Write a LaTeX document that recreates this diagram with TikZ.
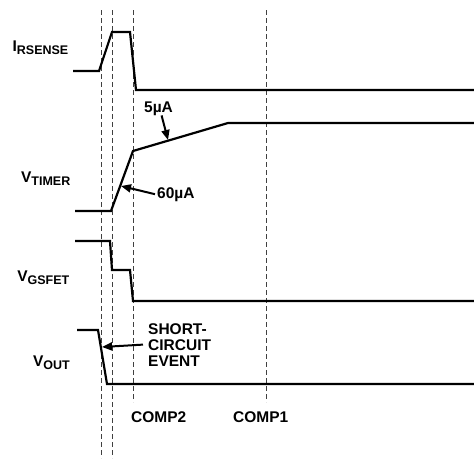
\documentclass[tikz,border=0pt]{standalone}
\usepackage{fontspec}
\setmainfont{Liberation Sans}
\usetikzlibrary{arrows.meta}
\newcommand{\sbs}[1]{\raisebox{-3pt}{\fontsize{12.5}{14}\selectfont #1}}

\begin{document}
\begin{tikzpicture} [x=1pt, y=-1pt, line join=miter,
    every node/.style={inner sep=0pt, font=\fontsize{15.5}{16}\selectfont\bfseries},
    sig/.style={line width=2.2pt},
    vdash/.style={line width=1pt, black!75, dash pattern=on 5pt off 3pt},
    pointer/.style={line width=2pt, -{Triangle[length=10pt,width=8pt]}}]

        \useasboundingbox (0, 0) rectangle (474, 458);

        % time markers
        \draw[vdash] (101, 10) -- (101, 458);
        \draw[vdash] (112, 10) -- (112, 458);
        \draw[vdash] (133.3, 10) -- (133.3, 402);
        \draw[vdash] (266.7, 10) -- (266.7, 402);

        % signals
        \draw[sig] (73, 71) -- (99, 71) -- (112, 32) -- (130, 32) -- (136, 90) -- (474, 90);
        \draw[sig] (75, 211) -- (111, 211) -- (133, 151) -- (228, 123) -- (474, 123);
        \draw[sig] (75, 241) -- (110, 241) -- (112, 270) -- (130, 270) -- (133, 301) -- (474, 301);
        \draw[sig] (77, 330) -- (98, 330) -- (107, 384) -- (474, 384);

        \node[anchor=base east] (isense) at (68.5, 51.7) {I\sbs{RSENSE}};
        \node[anchor=base east] (vtimer) at (70.5, 182.7) {V\sbs{TIMER}};
        \node[anchor=base east] (vgsfet) at (69.5, 281) {V\sbs{GSFET}};
        \node[anchor=base east] (vout) at (70, 366.7) {V\sbs{OUT}};

        \node[anchor=base west] (lbl5) at (144, 112) {5µA};
        \node[anchor=base west] (lbl60) at (157, 198) {60µA};
        \node[anchor=north west, align=left, font=\fontsize{15.5}{16}\selectfont\bfseries] (lblsc) at (148, 323)
            {SHORT-\\CIRCUIT\\EVENT};

        \coordinate (t5) at (168, 140);
        \coordinate (t60) at (121, 186);
        \coordinate (tsc) at (102, 347);
        \draw[pointer] ([xshift=3pt]lbl5.south) -- (t5);
        \draw[pointer] ([xshift=-2pt]lbl60.west) -- (t60);
        \draw[pointer] ([xshift=-5pt]lblsc.west) -- (tsc);

        \node[anchor=base west] (comp2) at (131, 422) {COMP2};
        \node[anchor=base west] (comp1) at (233, 422) {COMP1};
    \end{tikzpicture}
\end{document}
